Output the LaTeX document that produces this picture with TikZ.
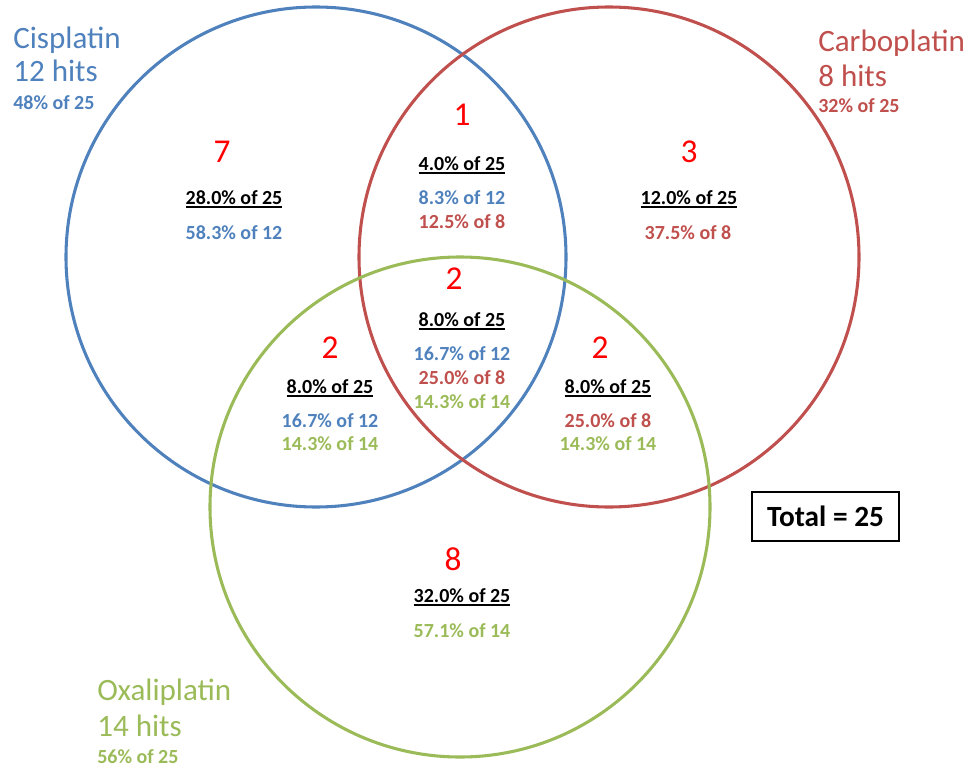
\documentclass[tikz,border=0pt]{standalone}
\usepackage{fontspec}
\setmainfont{Carlito}
\definecolor{cblue}{HTML}{4F81BD}
\definecolor{cred}{HTML}{C0504D}
\definecolor{cgreen}{HTML}{9BBB59}
\definecolor{numred}{HTML}{FF0000}
\newcommand\myul[1]{\setbox0\hbox{#1}\rlap{\rule[-2.8pt]{\wd0}{1.1pt}}\box0}
\tikzset{
  ring/.style={line width=2.3pt},
  txt/.style={inner sep=0pt, anchor=base},
  ttl/.style={txt, anchor=base west, font=\fontsize{23.3}{28}\selectfont},
  sub/.style={txt, anchor=base west, font=\bfseries\fontsize{15}{18}\selectfont},
  cnt/.style={txt, text=numred, font=\fontsize{25}{30}\selectfont},
  pct/.style={txt, font=\bfseries\fontsize{15}{18}\selectfont},
}
\begin{document}
\begin{tikzpicture}[x=0.75pt,y=-0.75pt]
\useasboundingbox (0,0) rectangle (971,767);
% circles
\draw[ring, cblue] (316,257) circle[radius=250];
\draw[ring, cred] (609,257) circle[radius=250];
\draw[ring, cgreen] (460,507) circle[radius=250];
% titles
\node[ttl, text=cblue] (t1a) at (13,49) {Cisplatin};
\node[ttl, text=cblue] (t1b) at (13,82) {12 hits};
\node[sub, text=cblue] (t1c) at (13,109) {48\% of 25};
\node[ttl, text=cred] (t2a) at (818,52) {Carboplatin};
\node[ttl, text=cred] (t2b) at (818,87) {8 hits};
\node[sub, text=cred] (t2c) at (818,113) {32\% of 25};
\node[ttl, text=cgreen] (t3a) at (97,700) {Oxaliplatin};
\node[ttl, text=cgreen] (t3b) at (97,736) {14 hits};
\node[sub, text=cgreen] (t3c) at (97,763) {56\% of 25};
% region C only
\node[cnt] (n1) at (222,162) {7};
\node[pct] (p1a) at (234,204) {\myul{28.0\% of 25}};
\node[pct, text=cblue] (p1b) at (234,239) {58.3\% of 12};
% C and Cb
\node[cnt] (n2) at (462,125) {1};
\node[pct] (p2a) at (462,170) {\myul{4.0\% of 25}};
\node[pct, text=cblue] (p2b) at (462,204) {8.3\% of 12};
\node[pct, text=cred] (p2c) at (462,228) {12.5\% of 8};
% Cb only
\node[cnt] (n3) at (689,162) {3};
\node[pct] (p3a) at (689,204) {\myul{12.0\% of 25}};
\node[pct, text=cred] (p3b) at (688,239) {37.5\% of 8};
% all three
\node[cnt] (n4) at (454,289) {2};
\node[pct] (p4a) at (462,326) {\myul{8.0\% of 25}};
\node[pct, text=cblue] (p4b) at (462,360) {16.7\% of 12};
\node[pct, text=cred] (p4c) at (462,384) {25.0\% of 8};
\node[pct, text=cgreen] (p4d) at (462,408) {14.3\% of 14};
% C and O
\node[cnt] (n5) at (330,358) {2};
\node[pct] (p5a) at (330,393) {\myul{8.0\% of 25}};
\node[pct, text=cblue] (p5b) at (330,427) {16.7\% of 12};
\node[pct, text=cgreen] (p5c) at (330,450) {14.3\% of 14};
% Cb and O
\node[cnt] (n6) at (600,358) {2};
\node[pct] (p6a) at (608,393) {\myul{8.0\% of 25}};
\node[pct, text=cred] (p6b) at (608,427) {25.0\% of 8};
\node[pct, text=cgreen] (p6c) at (608,450) {14.3\% of 14};
% O only
\node[cnt] (n7) at (453,570) {8};
\node[pct] (p7a) at (462,602) {\myul{32.0\% of 25}};
\node[pct, text=cgreen] (p7b) at (462,637) {57.1\% of 14};
% total box
\node[draw, line width=1.3pt, minimum width=147*0.75pt, minimum height=49*0.75pt, inner sep=0pt,
      font=\bfseries\fontsize{22}{26}\selectfont] (tot) at (825.5,516.5) {Total = 25};
\end{tikzpicture}
\end{document}
